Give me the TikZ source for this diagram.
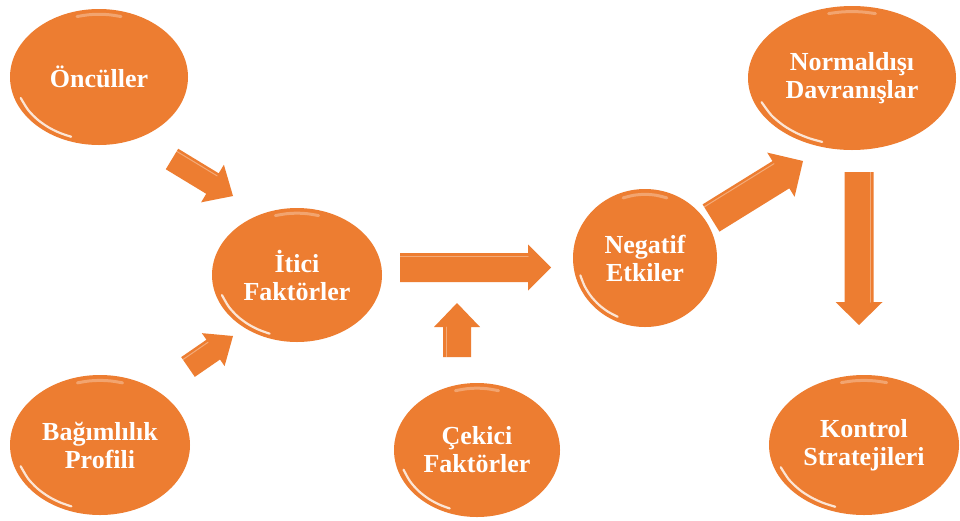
\documentclass[tikz,border=0pt]{standalone}
\usepackage{fontspec}
\setmainfont{Liberation Serif}
\usetikzlibrary{shapes.geometric,calc}
\definecolor{accent}{HTML}{ED7D31}
\tikzset{
  bubble/.style={ellipse, fill=accent, inner sep=0pt, text=white, align=center,
    font=\bfseries\fontsize{26}{28}\selectfont},
  glint/.style={white, line cap=round, opacity=.8, line width=2.2pt},
  topglint/.style={white, line cap=round, opacity=.3, line width=3pt},
  blockfill/.style={fill=accent},
  blockedge/.style={white, opacity=.35, line width=1pt, line cap=round}
}
% glossy bubble: name, x, y, x radius, y radius, text
\newcommand\bubble[6]{%
  \node[bubble, minimum width=2*#4, minimum height=2*#5] (#1) at (#2,#3) {#6};
  \draw[glint] plot[smooth] coordinates {
    ($(#1.center)!.93!(#1.195)$) ($(#1.center)!.93!(#1.205)$) ($(#1.center)!.93!(#1.215)$)
    ($(#1.center)!.93!(#1.225)$) ($(#1.center)!.93!(#1.235)$) ($(#1.center)!.93!(#1.245)$)};
  \draw[topglint] plot[smooth] coordinates {
    ($(#1.center)!.92!(#1.70)$) ($(#1.center)!.92!(#1.80)$) ($(#1.center)!.92!(#1.90)$)
    ($(#1.center)!.92!(#1.100)$) ($(#1.center)!.92!(#1.110)$)};
}
% block arrow: tail, tip, shaft half-width, head half-width, head length
\newcommand\blockarrow[5]{%
  \coordinate (ba-h) at ($(#2)!#5!(#1)$);
  \fill[blockfill] ($(#1)!#3!90:(#2)$) -- ($(ba-h)!#3!90:(#2)$)
    -- ($(ba-h)!#4!90:(#2)$) -- (#2) -- ($(ba-h)!#4!-90:(#2)$)
    -- ($(ba-h)!#3!-90:(#2)$) -- ($(#1)!#3!-90:(#2)$) -- cycle;
  \draw[blockedge] ($(#1)!#3-3pt!90:(#2)$) -- ($(ba-h)!#3-3pt!90:(#2)$);
}
\begin{document}
\begin{tikzpicture}[x=1pt, y=-1pt]
  \fill[white] (0,0) rectangle (960,520);
  \useasboundingbox (0,0) rectangle (960,520);

  \bubble{oncul}{99}{77}{89}{68}{Öncüller}
  \bubble{itici}{297}{275}{85}{67}{İtici\\Faktörler}
  \bubble{bagim}{100}{445}{90}{70}{Bağımlılık\\Profili}
  \bubble{cekici}{477}{450}{83}{67}{Çekici\\Faktörler}
  \bubble{negatif}{645}{258}{72}{69}{Negatif\\Etkiler}
  \bubble{normal}{852}{78}{104}{72}{Normaldışı\\Davranışlar}
  \bubble{kontrol}{864}{445}{95}{70}{Kontrol\\Stratejileri}

  % arrow end points
  \coordinate (a1s) at (172,159);   \coordinate (a1e) at (233,196);
  \coordinate (a2s) at (188,367);   \coordinate (a2e) at (233,336);
  \coordinate (a3s) at (400,267.5); \coordinate (a3e) at (551,267.5);
  \coordinate (a4s) at (457,357);   \coordinate (a4e) at (457,303);
  \coordinate (a5s) at (711,218);   \coordinate (a5e) at (803,161);
  \coordinate (a6s) at (859,172);   \coordinate (a6e) at (859,325);

  \blockarrow{a1s}{a1e}{12pt}{22pt}{24pt}
  \blockarrow{a2s}{a2e}{12pt}{20pt}{24pt}
  \blockarrow{a3s}{a3e}{14.5pt}{23pt}{23pt}
  \blockarrow{a4s}{a4e}{14pt}{23pt}{24pt}
  \blockarrow{a5s}{a5e}{16pt}{26pt}{26pt}
  \blockarrow{a6s}{a6e}{14.5pt}{23.5pt}{23pt}
\end{tikzpicture}
\end{document}
